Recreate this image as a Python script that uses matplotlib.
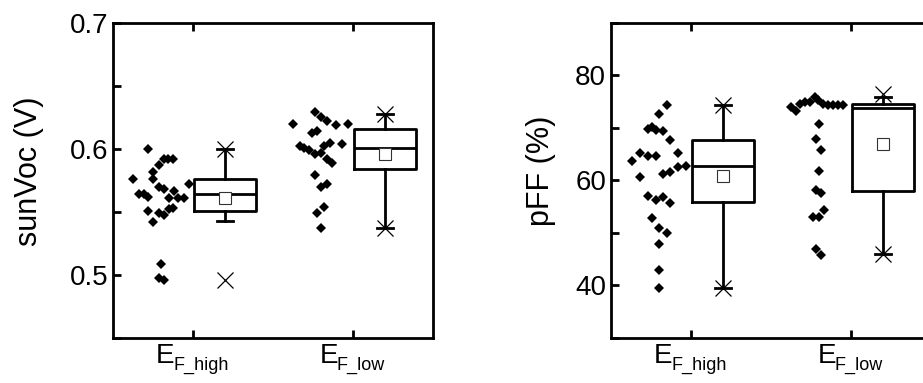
import matplotlib
matplotlib.use("Agg")
import matplotlib.pyplot as plt
from matplotlib.ticker import MultipleLocator

plt.rcParams['font.family'] = ['Liberation Sans', 'DejaVu Sans']

# group names / tick labels (main letter + subscript)
group_main = ['E', 'E']
group_sub = ['F_high', 'F_low']

# ---- sunVoc raw points (x position, value)
voc_high_x = [0.722, 0.625, 0.753, 0.785, 0.816, 0.847, 0.878, 0.753, 0.785,
              0.816, 0.882, 0.977, 0.660, 0.691, 0.722, 0.853, 0.909, 0.944,
              0.722, 0.785, 0.816, 0.853, 0.878, 0.753, 0.801, 0.785, 0.816]
voc_high = [0.600, 0.576, 0.582, 0.587, 0.592, 0.592, 0.592, 0.576, 0.570,
            0.568, 0.567, 0.572, 0.564, 0.564, 0.562, 0.561, 0.561, 0.561,
            0.551, 0.549, 0.548, 0.552, 0.553, 0.542, 0.509, 0.498, 0.496]
voc_low_x = [1.627, 1.764, 1.799, 1.836, 1.892, 1.971, 1.743, 1.778, 1.669,
             1.696, 1.727, 1.764, 1.799, 1.820, 1.855, 1.930, 1.836, 1.872,
             1.764, 1.799, 1.836, 1.816, 1.778, 1.799]
voc_low = [0.620, 0.629, 0.625, 0.622, 0.619, 0.620, 0.613, 0.614, 0.602,
           0.601, 0.599, 0.596, 0.597, 0.602, 0.605, 0.604, 0.592, 0.589,
           0.579, 0.570, 0.572, 0.554, 0.549, 0.537]

# ---- pFF raw points
pff_high_x = [0.633, 0.683, 0.683, 0.730, 0.757, 0.778, 0.730, 0.778, 0.799,
              0.848, 0.824, 0.871, 0.921, 0.824, 0.871, 0.921, 0.969, 0.730,
              0.778, 0.824, 0.871, 0.757, 0.799, 0.848, 0.799, 0.799, 0.799]
pff_high = [63.8, 65.3, 60.6, 69.8, 70.2, 69.7, 64.6, 64.6, 72.7,
            74.4, 69.5, 67.8, 65.2, 61.3, 61.6, 62.5, 62.8, 57.1,
            56.2, 56.8, 55.8, 52.8, 50.9, 50.0, 47.9, 43.0, 39.5]
pff_low_x = [1.623, 1.657, 1.681, 1.712, 1.743, 1.775, 1.795, 1.822, 1.857,
             1.888, 1.919, 1.950, 1.80, 1.78, 1.815, 1.80, 1.78, 1.815, 1.83,
             1.764, 1.80, 1.78, 1.815]
pff_low = [74.0, 73.3, 74.6, 75.0, 74.9, 75.9, 75.4, 74.6, 74.4,
           74.4, 74.4, 74.3, 70.8, 67.9, 65.9, 61.8, 58.2, 57.6, 54.4,
           53.1, 53.1, 47.0, 45.9]

# ---- box statistics: q1, median, q3, mean, whisker low, whisker high, min, max
voc_q1 = [0.551, 0.584]
voc_med = [0.564, 0.601]
voc_q3 = [0.576, 0.616]
voc_mean = [0.561, 0.596]
voc_wlo = [0.543, 0.537]
voc_whi = [0.600, 0.628]
voc_min = [0.496, 0.537]
voc_max = [0.600, 0.628]

pff_q1 = [55.9, 58.0]
pff_med = [62.7, 73.8]
pff_q3 = [67.8, 74.6]
pff_mean = [60.8, 67.0]
pff_wlo = [39.6, 46.0]
pff_whi = [74.4, 75.9]
pff_min = [39.6, 46.0]
pff_max = [74.4, 76.4]

fig = plt.figure(figsize=(9.23, 3.83), dpi=100)
ax1 = fig.add_axes([0.1224, 0.1175, 0.3467, 0.8225])
ax2 = fig.add_axes([0.662, 0.1175, 0.3467, 0.8225])


def draw_panel(ax, pts, q1, med, q3, mean, wlo, whi, vmin, vmax):
    for xs, ys in pts:
        ax.plot(xs, ys, 'D', color='black', markersize=5, markeredgewidth=0)
    stats = []
    for i in range(2):
        stats.append(dict(q1=q1[i], med=med[i], q3=q3[i], mean=mean[i],
                          whislo=wlo[i], whishi=whi[i], fliers=[]))
    ax.bxp(stats, positions=[1.2, 2.2], widths=0.385, capwidths=0.1,
           showmeans=True, showfliers=False,
           boxprops=dict(linewidth=2, color='black'),
           medianprops=dict(linewidth=2, color='black'),
           whiskerprops=dict(linewidth=2, color='black'),
           capprops=dict(linewidth=2, color='black'),
           meanprops=dict(marker='s', markersize=9, markerfacecolor='white',
                          markeredgecolor='#333333', markeredgewidth=0.8))
    ax.plot([1.2, 2.2], vmin, 'x', color='black', markersize=11, markeredgewidth=0.9)
    ax.plot([1.2, 2.2], vmax, 'x', color='black', markersize=11, markeredgewidth=0.9)

    ax.set_xlim(0.5, 2.5)
    ax.set_xticks([1, 2])
    for s in ax.spines.values():
        s.set_linewidth(2)
    ax.tick_params(axis='both', which='both', direction='in', width=2,
                   length=5.5, labelsize=20, top=True, right=False,
                   labelbottom=False)
    ax.tick_params(axis='x', which='minor', top=False, bottom=False)


draw_panel(ax1, [(voc_high_x, voc_high), (voc_low_x, voc_low)],
           voc_q1, voc_med, voc_q3, voc_mean, voc_wlo, voc_whi, voc_min, voc_max)
ax1.set_ylim(0.45, 0.7)
ax1.set_yticks([0.5, 0.6, 0.7])
ax1.yaxis.set_minor_locator(MultipleLocator(0.05))
ax1.set_ylabel('sunVoc (V)', fontsize=22, labelpad=18, y=0.53)

draw_panel(ax2, [(pff_high_x, pff_high), (pff_low_x, pff_low)],
           pff_q1, pff_med, pff_q3, pff_mean, pff_wlo, pff_whi, pff_min, pff_max)
ax2.set_ylim(30, 90)
ax2.set_yticks([40, 60, 80])
ax2.yaxis.set_minor_locator(MultipleLocator(10))
ax2.set_ylabel('pFF (%)', fontsize=22, labelpad=14, y=0.53)

# x tick labels: big "E" with a smaller, lowered subscript, centred on the tick
fig.canvas.draw()
renderer = fig.canvas.get_renderer()
for ax in (ax1, ax2):
    for i, tick in enumerate([1, 2]):
        big = ax.annotate(group_main[i], xy=(tick, 0), xycoords=('data', 'axes fraction'),
                          xytext=(0, -18), textcoords='offset points',
                          ha='left', va='baseline', fontsize=20)
        small = ax.annotate(group_sub[i], xy=(tick, 0), xycoords=('data', 'axes fraction'),
                            xytext=(0, -23), textcoords='offset points',
                            ha='left', va='baseline', fontsize=13)
        wb = big.get_window_extent(renderer).width * 72 / fig.dpi
        ws = small.get_window_extent(renderer).width * 72 / fig.dpi
        start = -(wb + ws) / 2
        big.set_position((start, -18))
        small.set_position((start + wb - 1, -23))

fig.savefig('out.png', dpi=100)
